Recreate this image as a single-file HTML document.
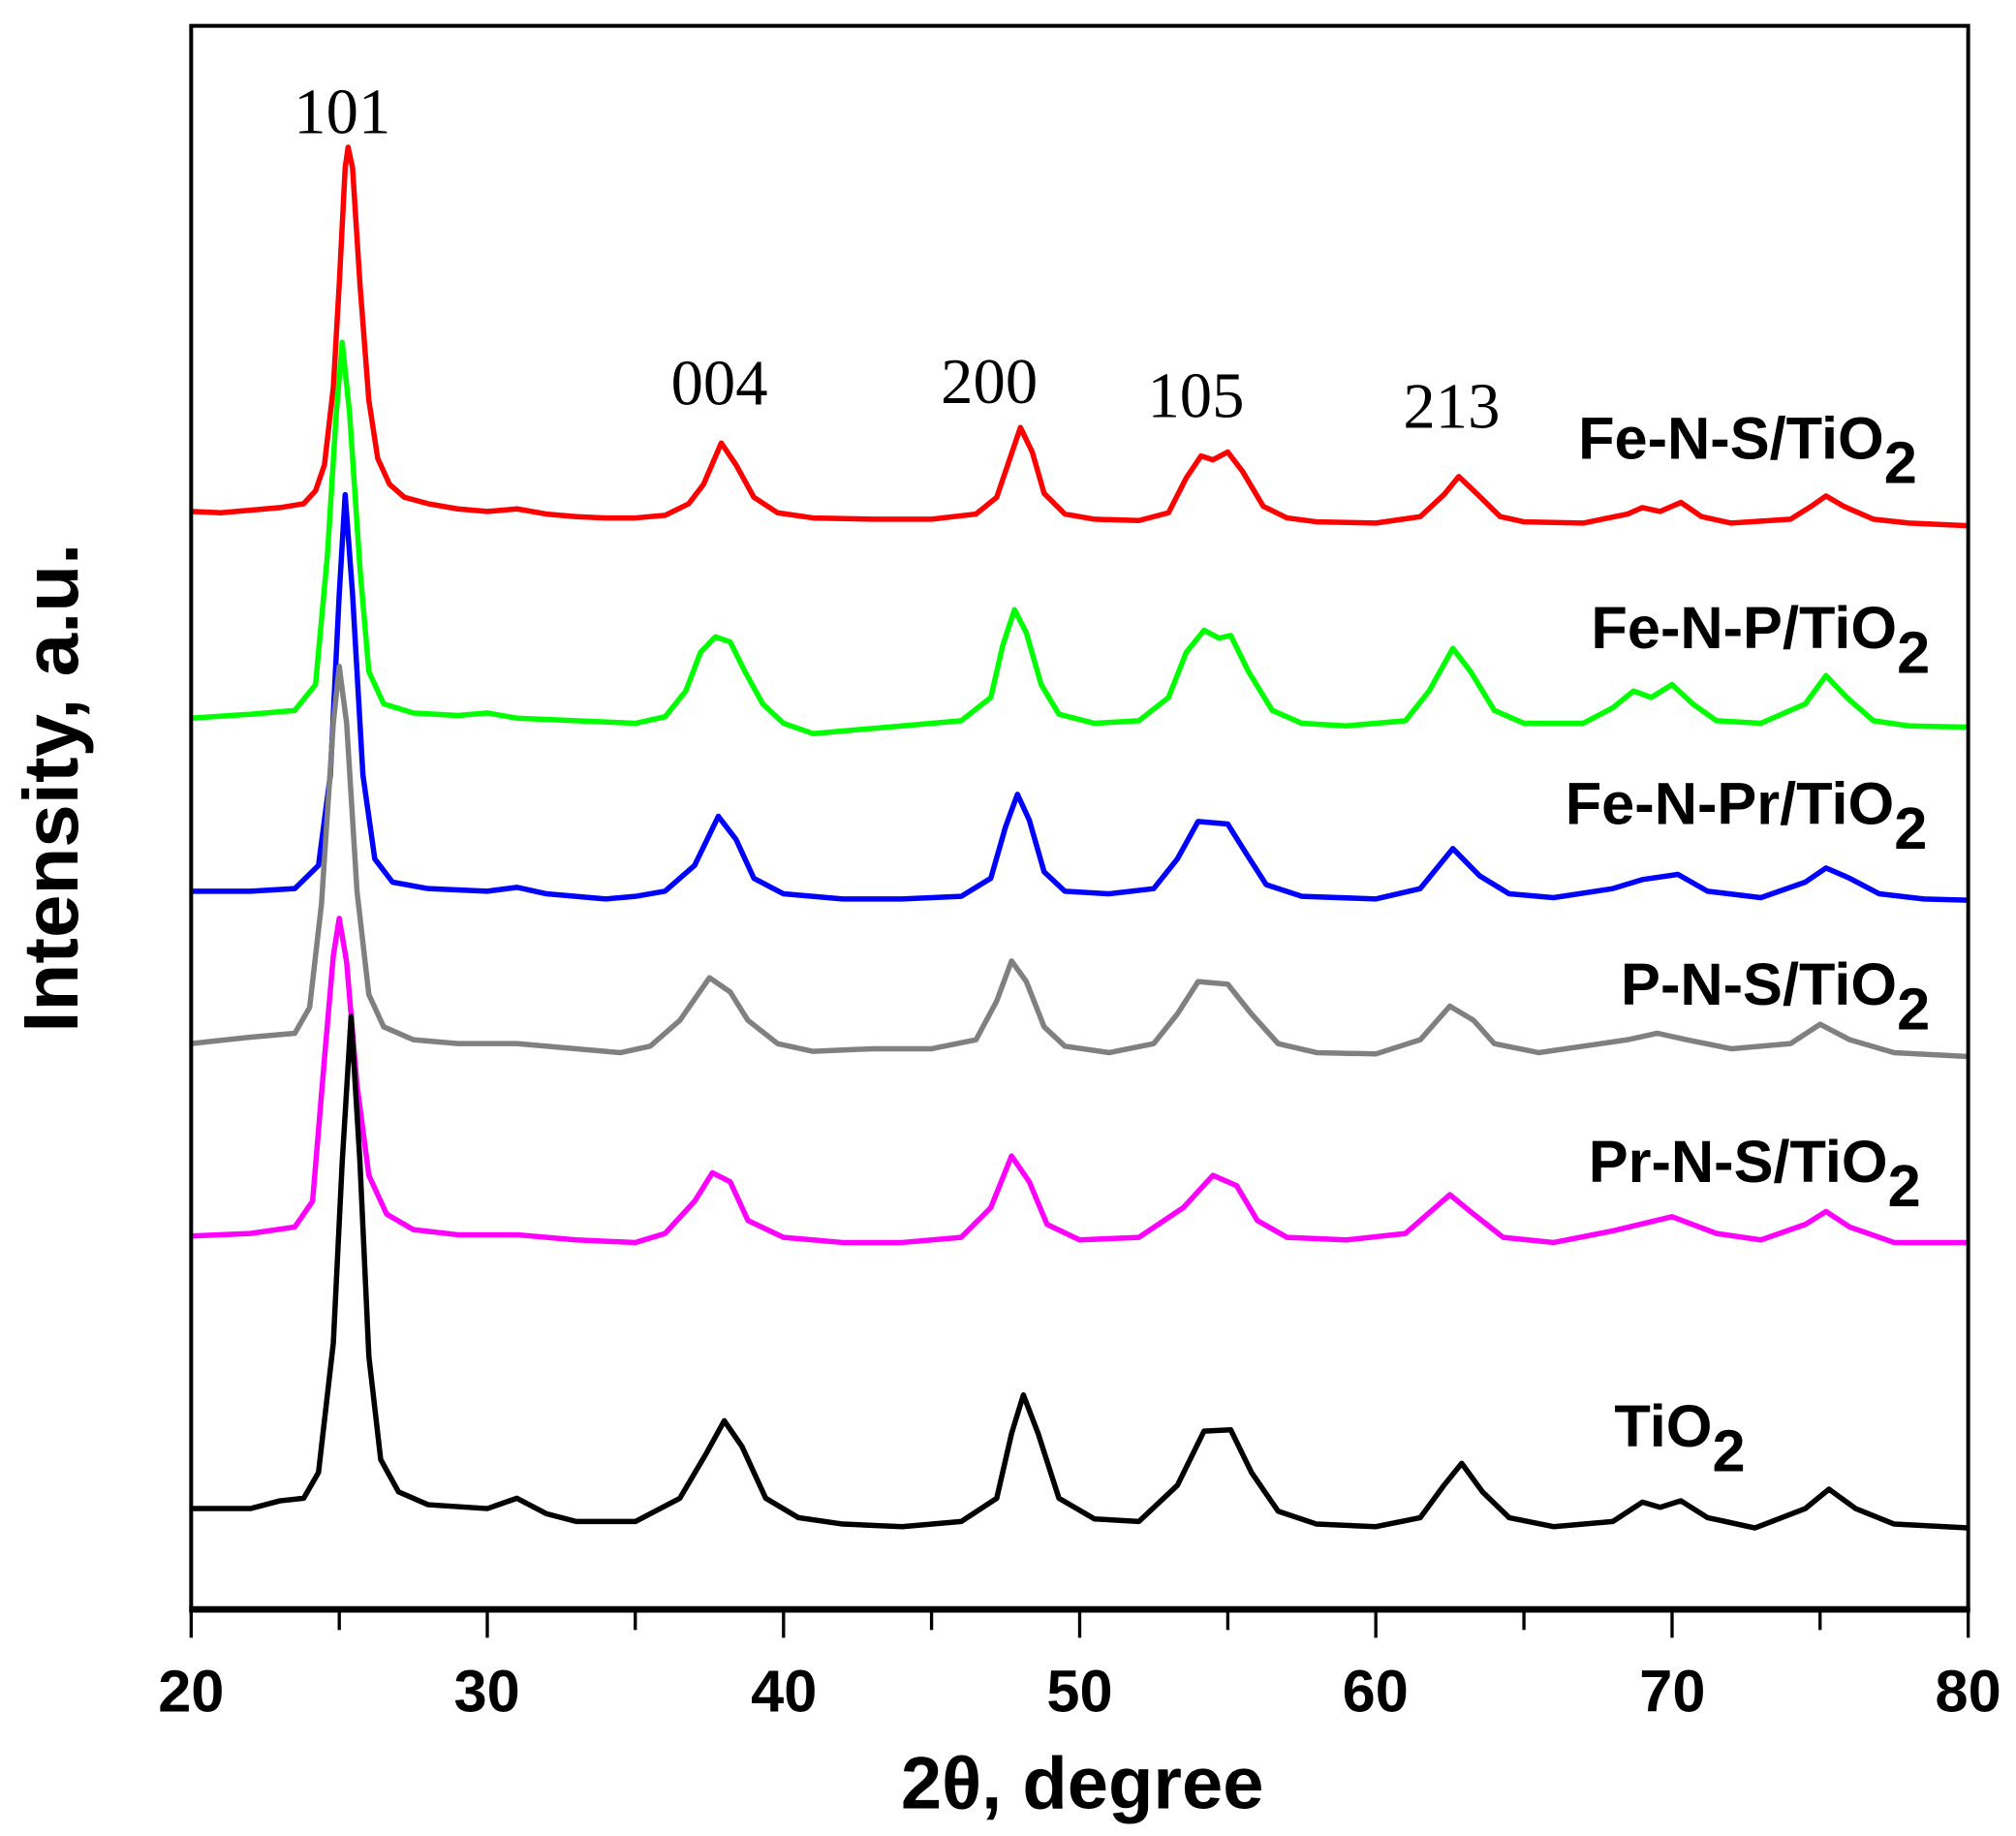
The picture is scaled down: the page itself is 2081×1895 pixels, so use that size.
<!DOCTYPE html>
<html><head><meta charset="utf-8"><style>html,body{margin:0;padding:0;background:#fff}svg{display:block}</style></head>
<body>
<svg width="2081" height="1895" viewBox="0 0 1561 1421.5" xmlns="http://www.w3.org/2000/svg">
<rect width="1561" height="1422" fill="#fff"/>
<g transform="translate(148,0) scale(22.933,1) translate(-20,0)" fill="none" stroke-width="5.5" stroke-linejoin="round">
<polyline vector-effect="non-scaling-stroke" stroke="#f00" points="20,396 21,397 22,395 23,393 23.8,390 24.2,380 24.5,360 24.8,300 25.0,220 25.2,130 25.3,114 25.45,130 25.7,220 26.0,310 26.3,355 26.7,375 27.2,385 28,390 29,394 30,396 31,394 32,398 33,400 34,401 35,401 36,399 36.8,390 37.3,375 37.9,343 38.4,360 39,385 39.8,397 41,401 43,402 45,402 46.5,398 47.2,385 47.6,358 48.0,331 48.4,350 48.8,382 49.5,398 50.5,402 52,403 53,397 53.6,370 54.1,353 54.5,356 55,350 55.5,365 56.2,392 57,401 58,404 60,405 61.5,400 62.3,383 62.8,369 63.4,382 64.2,400 65,404 67,405 68.5,398 69,393 69.6,396 70.3,389 71,400 72,405 74,402 74.7,392 75.2,384 75.8,392 76.8,402 78,405 80,407"/>
<polyline vector-effect="non-scaling-stroke" stroke="#0f0" points="20,556 22,553 23.5,550 24.2,530 24.6,430 24.9,320 25.1,265 25.35,320 25.7,440 26.0,520 26.5,545 27.5,552 29,554 30,552 31,556 33,558 35,560 36,555 36.7,535 37.2,505 37.7,493 38.2,497 38.7,520 39.3,545 40,560 41,568 42,566 44,562 46,558 47,540 47.4,500 47.8,472 48.2,490 48.7,530 49.3,553 50.5,560 52,558 53,540 53.6,505 54.2,488 54.7,494 55.1,492 55.7,520 56.5,550 57.5,560 59,562 61,558 61.8,535 62.6,502 63.2,520 64,550 65,560 67,560 68,548 68.7,535 69.3,540 70,530 70.7,545 71.5,558 73,560 74.5,545 75.2,523 75.9,540 76.8,558 78,562 80,563"/>
<polyline vector-effect="non-scaling-stroke" stroke="#00f" points="20,690 22,690 23.5,688 24.3,670 24.7,600 25.0,460 25.2,383 25.45,460 25.8,600 26.2,665 26.8,683 28,688 30,690 31,687 32,692 34,696 35,694 36,690 37,670 37.8,632 38.4,650 39,680 40,692 42,696 44,696 46,694 47,680 47.5,640 47.9,615 48.3,635 48.8,675 49.5,690 51,692 52.5,688 53.3,665 54,636 55,638 55.6,660 56.3,685 57.5,694 60,696 61.5,688 62.6,657 63.5,678 64.5,692 66,695 68,688 69,681 70.2,677 71.2,690 73,695 74.5,683 75.2,672 76,680 77,692 78.5,696 80,697"/>
<polyline vector-effect="non-scaling-stroke" stroke="#808080" points="20,808 22,803 23.5,800 24,780 24.4,700 24.8,560 25.0,516 25.25,560 25.6,690 26,770 26.5,795 27.5,805 29,808 31,808 33,812 34.5,815 35.5,810 36.5,790 37.5,757 38.2,768 38.8,790 39.8,808 41,814 43,812 45,812 46.5,805 47.2,775 47.7,744 48.2,760 48.8,795 49.5,810 51,815 52.5,808 53.3,785 54,760 55,762 55.8,785 56.7,808 58,815 60,816 61.5,805 62.5,779 63.3,790 64,808 65.5,815 67,810 68.5,805 69.5,800 70.5,805 72,812 74,808 75,793 76,805 77.5,815 80,818"/>
<polyline vector-effect="non-scaling-stroke" stroke="#f0f" points="20,957 22,955 23.5,950 24.1,930 24.5,820 24.8,740 25.0,711 25.25,745 25.6,840 26,910 26.6,940 27.5,952 29,956 31,956 33,960 35,962 36,955 37,930 37.6,908 38.2,915 38.8,945 40,958 42,962 44,962 46,958 47,935 47.7,895 48.3,915 48.9,948 50,960 52,958 53.5,935 54.5,910 55.3,918 56,945 57,958 59,960 61,955 62.5,925 63.3,940 64.3,958 66,962 68,953 70,942 71.5,955 73,960 74.5,948 75.2,938 76,950 77.5,962 80,962"/>
<polyline vector-effect="non-scaling-stroke" stroke="#000" points="20,1168 22,1168 23,1162 23.8,1160 24.3,1140 24.8,1040 25.1,900 25.4,787 25.7,900 26.0,1050 26.4,1130 27,1155 28,1165 30,1168 31,1160 32,1172 33,1178 35,1178 36.5,1160 37.4,1125 38,1100 38.6,1120 39.4,1160 40.5,1175 42,1180 44,1182 46,1178 47.2,1160 47.7,1110 48.1,1080 48.6,1110 49.3,1160 50.5,1176 52,1178 53.3,1150 54.2,1108 55.1,1107 55.8,1140 56.7,1170 58,1180 60,1182 61.5,1175 62.3,1150 62.9,1133 63.6,1155 64.5,1175 66,1182 68,1178 69,1163 69.6,1167 70.3,1162 71.2,1175 72.8,1183 74.5,1168 75.3,1153 76.2,1168 77.5,1180 80,1183"/>
</g>
<rect x="148" y="20" width="1376" height="1227" fill="none" stroke="#000" stroke-width="3"/>
<line x1="146.5" y1="1246" x2="1525.5" y2="1246" stroke="#000" stroke-width="5"/>
<g stroke="#000" stroke-width="2.5">
<line x1="148" y1="1248" x2="148" y2="1268"/><line x1="262.7" y1="1248" x2="262.7" y2="1262"/>
<line x1="377.3" y1="1248" x2="377.3" y2="1268"/><line x1="491.9" y1="1248" x2="491.9" y2="1262"/>
<line x1="606.7" y1="1248" x2="606.7" y2="1268"/><line x1="721.3" y1="1248" x2="721.3" y2="1262"/>
<line x1="836" y1="1248" x2="836" y2="1268"/><line x1="950.7" y1="1248" x2="950.7" y2="1262"/>
<line x1="1065.3" y1="1248" x2="1065.3" y2="1268"/><line x1="1180" y1="1248" x2="1180" y2="1262"/>
<line x1="1294.7" y1="1248" x2="1294.7" y2="1268"/><line x1="1409.3" y1="1248" x2="1409.3" y2="1262"/>
<line x1="1524" y1="1248" x2="1524" y2="1268"/>
</g>
<g font-family="Liberation Sans, Arial, sans-serif" font-weight="bold" font-size="46" text-anchor="middle" fill="#000">
<text x="148" y="1325">20</text><text x="377" y="1325">30</text><text x="607" y="1325">40</text><text x="836" y="1325">50</text><text x="1065" y="1325">60</text><text x="1295" y="1325">70</text><text x="1524" y="1325">80</text>
<text x="838" y="1400" font-size="57">2θ, degree</text>
<text transform="translate(60,610) rotate(-90)" font-size="60">Intensity, a.u.</text>
</g>
<g font-family="Liberation Serif, serif" font-size="50" text-anchor="middle" fill="#000">
<text x="265" y="103">101</text><text x="557" y="313">004</text><text x="766" y="312">200</text><text x="926" y="323">105</text><text x="1124" y="331">213</text>
</g>
<g font-family="Liberation Sans, Arial, sans-serif" font-weight="bold" font-size="46" fill="#000">
<text x="1222" y="355">Fe-N-S/TiO<tspan dy="19">2</tspan></text>
<text x="1232" y="502">Fe-N-P/TiO<tspan dy="19">2</tspan></text>
<text x="1212" y="638">Fe-N-Pr/TiO<tspan dy="19">2</tspan></text>
<text x="1255" y="778">P-N-S/TiO<tspan dy="19">2</tspan></text>
<text x="1230" y="915">Pr-N-S/TiO<tspan dy="19">2</tspan></text>
<text x="1250" y="1120">TiO<tspan dy="19">2</tspan></text>
</g>
</svg>
</body></html>
